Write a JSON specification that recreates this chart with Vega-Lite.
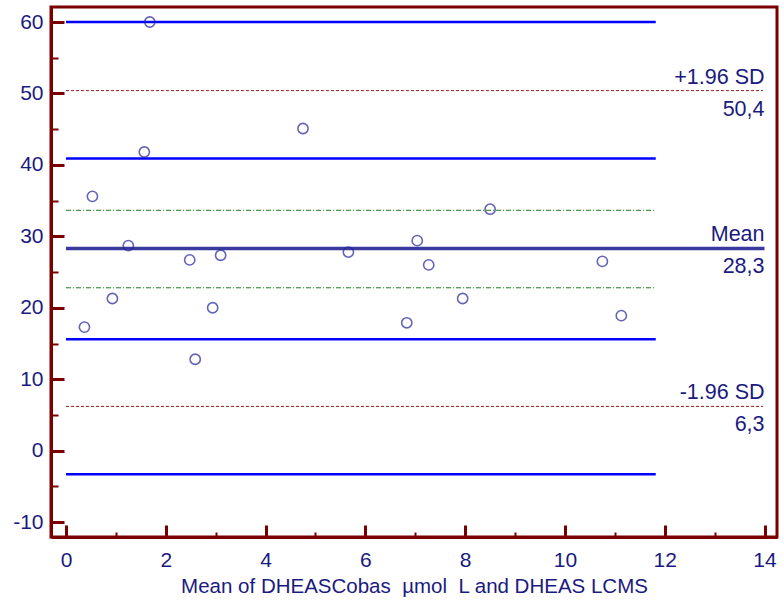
{
  "$schema": "https://vega.github.io/schema/vega-lite/v6.json",
  "width": 726,
  "height": 530,
  "autosize": "none",
  "padding": {"left": 51, "top": 7, "right": 7, "bottom": 63},
  "background": "white",
  "config": {
    "view": {"stroke": "#7a0000", "strokeWidth": 3},
    "font": "Liberation Sans"
  },
  "datasets": {
    "points": [
      {"x": 0.37, "y": 17.3}, {"x": 0.53, "y": 35.6}, {"x": 0.93, "y": 21.3},
      {"x": 1.25, "y": 28.7}, {"x": 1.57, "y": 41.8}, {"x": 1.68, "y": 60.0},
      {"x": 2.48, "y": 26.7}, {"x": 2.59, "y": 12.8}, {"x": 2.94, "y": 20.0},
      {"x": 3.10, "y": 27.35}, {"x": 4.75, "y": 45.1}, {"x": 5.66, "y": 27.8},
      {"x": 6.83, "y": 17.9}, {"x": 7.04, "y": 29.4}, {"x": 7.27, "y": 26.0},
      {"x": 7.95, "y": 21.3}, {"x": 8.50, "y": 33.8}, {"x": 10.75, "y": 26.5},
      {"x": 11.13, "y": 18.9}
    ],
    "lines": [
      {"kind": "ci", "y": 60.0, "x1": 0, "x2": 11.82},
      {"kind": "ci", "y": 40.9, "x1": 0, "x2": 11.82},
      {"kind": "ci", "y": 15.6, "x1": 0, "x2": 11.82},
      {"kind": "ci", "y": -3.3, "x1": 0, "x2": 11.82},
      {"kind": "meanci", "y": 33.65, "x1": 0, "x2": 11.8},
      {"kind": "meanci", "y": 22.8, "x1": 0, "x2": 11.8},
      {"kind": "sd", "y": 50.4, "x1": 0, "x2": 13.97},
      {"kind": "sd", "y": 6.2, "x1": 0, "x2": 13.97},
      {"kind": "mean", "y": 28.3, "x1": 0, "x2": 14}
    ],
    "labels": [
      {"x": 14, "y": 50.4, "above": "+1.96 SD", "below": "50,4"},
      {"x": 14, "y": 28.3, "above": "Mean", "below": "28,3"},
      {"x": 14, "y": 6.2, "above": "-1.96 SD", "below": "6,3"}
    ]
  },
  "resolve": {"axis": {"x": "independent", "y": "independent"}},
  "layer": [
    {
      "data": {"name": "lines"},
      "transform": [{"filter": "datum.kind === 'ci'"}],
      "mark": {"type": "rule", "color": "#0000ff", "strokeWidth": 2.5},
      "encoding": {
        "x": {
          "field": "x1", "type": "quantitative",
          "scale": {"domain": [-0.3, 14.25], "nice": false, "zero": false},
          "axis": {
            "orient": "bottom",
            "values": [0, 2, 4, 6, 8, 10, 12, 14],
            "grid": false,
            "domainColor": "#7a0000", "domainWidth": 3,
            "tickColor": "#7a0000", "tickWidth": 3, "tickSize": -12,
            "labelColor": "#1a1a80", "labelFontSize": 21, "labelPadding": 24,
            "labelFont": "Liberation Sans",
            "title": "Mean of DHEASCobas \u00a0µmol \u00a0L and DHEAS LCMS",
            "titleColor": "#1a1a80", "titleFontSize": 20.5, "titleFontWeight": "normal",
            "titleFont": "Liberation Sans", "titlePadding": 6
          }
        },
        "x2": {"field": "x2"},
        "y": {
          "field": "y", "type": "quantitative",
          "scale": {"domain": [-12.08, 62.1], "nice": false, "zero": false},
          "axis": {
            "orient": "left",
            "values": [-10, 0, 10, 20, 30, 40, 50, 60],
            "labelExpr": "'' + datum.value",
            "grid": false,
            "domainColor": "#7a0000", "domainWidth": 3,
            "tickColor": "#7a0000", "tickWidth": 3, "tickSize": -13,
            "labelColor": "#1a1a80", "labelFontSize": 21, "labelPadding": 21,
            "labelFont": "Liberation Sans",
            "title": null
          }
        }
      }
    },
    {
      "data": {"name": "lines"},
      "transform": [{"filter": "datum.kind === 'meanci'"}],
      "mark": {"type": "rule", "color": "#1a7a1a", "strokeWidth": 1, "strokeDash": [5, 2, 1, 2]},
      "encoding": {
        "x": {
          "field": "x1", "type": "quantitative",
          "axis": {
            "orient": "bottom",
            "values": [1, 3, 5, 7, 9, 11, 13],
            "grid": false, "domain": false, "labels": false, "title": null,
            "tickColor": "#7a0000", "tickWidth": 2, "tickSize": -5
          }
        },
        "x2": {"field": "x2"},
        "y": {
          "field": "y", "type": "quantitative",
          "axis": {
            "orient": "left",
            "values": [-5, 5, 15, 25, 35, 45, 55],
            "grid": false, "domain": false, "labels": false, "title": null,
            "tickColor": "#7a0000", "tickWidth": 2, "tickSize": -7
          }
        }
      }
    },
    {
      "data": {"name": "lines"},
      "transform": [{"filter": "datum.kind === 'sd'"}],
      "mark": {"type": "rule", "color": "#a01818", "strokeWidth": 1, "strokeDash": [3, 2]},
      "encoding": {
        "x": {"field": "x1", "type": "quantitative", "axis": null},
        "x2": {"field": "x2"},
        "y": {"field": "y", "type": "quantitative", "axis": null}
      }
    },
    {
      "data": {"name": "lines"},
      "transform": [{"filter": "datum.kind === 'mean'"}],
      "mark": {"type": "rule", "color": "#3a3a9e", "strokeWidth": 3.5},
      "encoding": {
        "x": {"field": "x1", "type": "quantitative", "axis": null},
        "x2": {"field": "x2"},
        "y": {"field": "y", "type": "quantitative", "axis": null}
      }
    },
    {
      "data": {"name": "points"},
      "mark": {"type": "point", "shape": "circle", "filled": false, "color": "#24249a", "strokeWidth": 1.6, "size": 105},
      "encoding": {
        "x": {"field": "x", "type": "quantitative", "axis": null},
        "y": {"field": "y", "type": "quantitative", "axis": null}
      }
    },
    {
      "data": {"name": "labels"},
      "mark": {"type": "text", "align": "right", "baseline": "alphabetic", "dy": -7, "fontSize": 21.5, "color": "#1a1a80", "font": "Liberation Sans"},
      "encoding": {
        "x": {"field": "x", "type": "quantitative", "axis": null},
        "y": {"field": "y", "type": "quantitative", "axis": null},
        "text": {"field": "above"}
      }
    },
    {
      "data": {"name": "labels"},
      "mark": {"type": "text", "align": "right", "baseline": "top", "dy": 8, "fontSize": 21.5, "color": "#1a1a80", "font": "Liberation Sans"},
      "encoding": {
        "x": {"field": "x", "type": "quantitative", "axis": null},
        "y": {"field": "y", "type": "quantitative", "axis": null},
        "text": {"field": "below"}
      }
    }
  ]
}
